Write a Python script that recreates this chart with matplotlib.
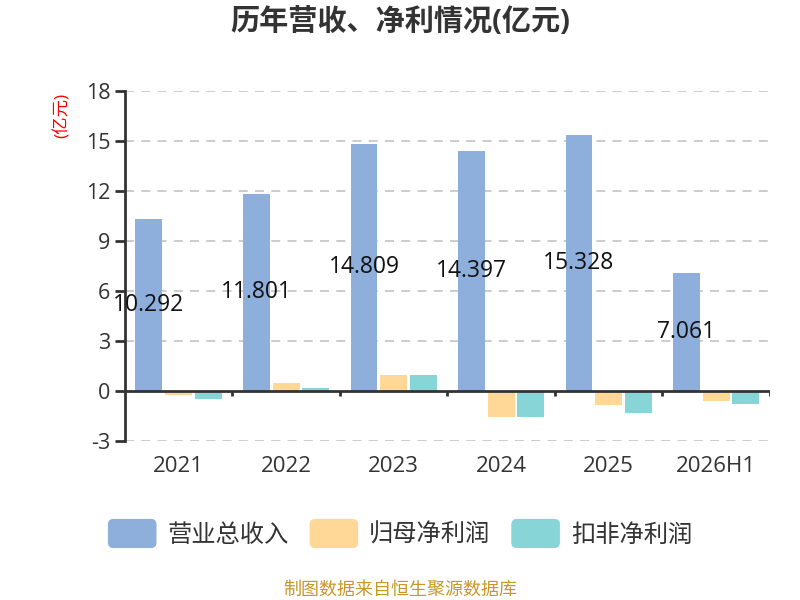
import matplotlib
matplotlib.use('Agg')
import matplotlib.pyplot as plt
import numpy as np
from matplotlib.patches import FancyBboxPatch, Patch
from matplotlib.legend_handler import HandlerPatch

plt.rcParams['font.family'] = ['Open Sans', 'Noto Sans CJK SC', 'DejaVu Sans']
plt.rcParams['axes.unicode_minus'] = False

years = ['2021', '2022', '2023', '2024', '2025', '2026H1']
revenue = [10.292, 11.801, 14.809, 14.397, 15.328, 7.061]
net_profit = [-0.28, 0.46, 0.92, -1.58, -0.84, -0.64]
net_profit_deducted = [-0.48, 0.16, 0.94, -1.56, -1.32, -0.78]
series_names = ['营业总收入', '归母净利润', '扣非净利润']
colors = ['#8EAEDB', '#FFD898', '#88D5D8']
y_ticks = [-3, 0, 3, 6, 9, 12, 15, 18]


class RoundBoxHandler(HandlerPatch):
    # rounded legend swatch, about 49 x 29 px
    def create_artists(self, legend, orig_handle, xdescent, ydescent,
                       width, height, fontsize, trans):
        h = 21
        y0 = -ydescent + height / 2 - h / 2
        p = FancyBboxPatch((-xdescent, y0), width, h,
                           boxstyle='round,pad=0,rounding_size=4',
                           facecolor=orig_handle.get_facecolor(),
                           edgecolor='none', transform=trans)
        return [p]


fig = plt.figure(figsize=(8, 6), dpi=100)
ax = fig.add_axes([0.156, 0.2655, 0.8065, 0.5835])

x = np.arange(len(years))
step = 0.276
width = 0.25
for i, vals in enumerate([revenue, net_profit, net_profit_deducted]):
    ax.bar(x + (i - 1) * step, vals, width, color=colors[i],
           label=series_names[i], zorder=3)

for xi, v in zip(x - step, revenue):
    ax.text(xi, v / 2, f'{v:.3f}', ha='center', va='center',
            fontsize=16.5, color='#111111', zorder=5)

ax.set_xlim(-0.5, len(years) - 0.5)
ax.set_ylim(-3, 18)
ax.set_yticks(y_ticks)
ax.set_yticklabels([str(t) for t in y_ticks])
ax.set_xticks(x)
ax.set_xticklabels(years)

for t in y_ticks:
    if t != 0:
        ax.axhline(t, color='#c8c8c8', linestyle=(0, (5, 4)), linewidth=1.3, zorder=1)

# x axis line drawn at zero
ax.axhline(0, color='#333333', linewidth=2, zorder=4)
bounds = np.arange(len(years) + 1) - 0.5
ax.vlines(bounds[1:], -0.3, 0, color='#333333', linewidth=2, zorder=4)

for s in ['top', 'right', 'bottom']:
    ax.spines[s].set_visible(False)
ax.spines['left'].set_color('#333333')
ax.spines['left'].set_linewidth(2)
ax.tick_params(axis='y', length=7.5, width=2, color='#333333',
               labelsize=15.5, labelcolor='#333333', pad=3)
ax.tick_params(axis='x', length=0, labelsize=16, labelcolor='#333333', pad=11)

fig.text(0.5, 0.962, '历年营收、净利情况(亿元)', ha='center', va='center',
         fontsize=21, fontweight='bold', color='#333333')
fig.text(0.0775, 0.808, '(亿元)', ha='center', va='center', rotation=90,
         fontsize=12.5, color='#ff0000')

proxies = [Patch(facecolor=c) for c in colors]
fig.legend(handles=proxies, labels=series_names, loc='center',
           bbox_to_anchor=(0.5, 0.108), ncol=3, frameon=False,
           fontsize=17.5, handlelength=2.0, handleheight=1.0,
           handletextpad=0.45, columnspacing=0.86, labelcolor='#333333',
           handler_map={Patch: RoundBoxHandler()})

fig.text(0.5, 0.018, '制图数据来自恒生聚源数据库', ha='center', va='center',
         fontsize=13, color='#c8962a')

fig.savefig('out.png', dpi=100)
